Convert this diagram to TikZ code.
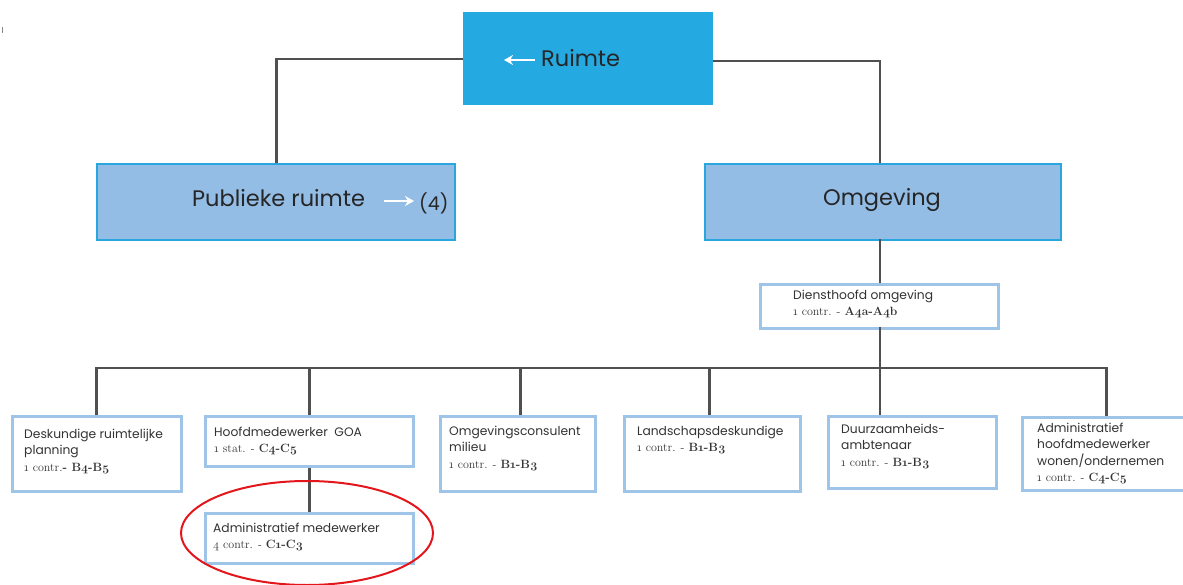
\documentclass[tikz,border=0pt]{standalone}
\usepackage{fontspec}
\setsansfont{Poppins}
\newfontfamily\numserif[Numbers=OldStyle]{Latin Modern Roman}
\usetikzlibrary{arrows.meta}

\definecolor{topblue}{HTML}{25A9E1}
\definecolor{midfill}{HTML}{93BDE5}
\definecolor{midedge}{HTML}{2AA6DF}
\definecolor{boxedge}{HTML}{9EC4E8}
\definecolor{linkgray}{HTML}{505050}
\definecolor{inktext}{HTML}{333333}
\definecolor{markred}{HTML}{E3161C}

\newcommand{\grade}[2]{{\numserif\fontsize{12}{13}\selectfont #1\textbf{#2}}}

\tikzset{
  topbox/.style={fill=topblue, draw=none, anchor=north west, inner sep=0pt},
  midbox/.style={fill=midfill, draw=midedge, line width=2.2pt, anchor=north west, inner sep=0pt},
  staffbox/.style={fill=white, draw=boxedge, line width=2.8pt, anchor=north west, inner sep=0pt},
  bigtext/.style={font=\sffamily\fontsize{22.5}{26}\selectfont, text=black!85, inner sep=0pt},
  stafftext/.style={font=\sffamily\fontsize{12.3}{16.3}\selectfont, text=inktext, align=left, anchor=north west, inner sep=0pt},
  link/.style={draw=linkgray, line width=2.9pt},
  whitearrow/.style={draw=white, line width=2.8pt, -{Stealth[length=9pt,width=10pt]}},
  circled/.style={draw=markred, line width=2pt}
}

\begin{document}
\begin{tikzpicture}[x=1pt,y=-1pt]
\useasboundingbox (0,0) rectangle (1183,585);

% small tick in the corner
\draw[linkgray!70, line width=1pt] (2,27) -- (2,33);

% top level
\node[topbox, minimum width=250pt, minimum height=93pt] (ruimte) at (463,12) {};
\node[bigtext, anchor=west] (ruimtelabel) at (541,58) {Ruimte};
\coordinate (rarrowA) at (535,60);
\coordinate (rarrowB) at (504,60);

% second level
\node[midbox, minimum width=358pt, minimum height=76pt] (publiek) at (96,163) {};
\node[midbox, minimum width=356pt, minimum height=76pt] (omgeving) at (704,163) {};
\node[bigtext, anchor=west] (publieklabel) at (192,198) {Publieke ruimte};
\node[bigtext, anchor=west, font=\sffamily\fontsize{19}{22}\selectfont] (vier) at (419,203) {(4)};
\coordinate (parrowA) at (384,201);
\coordinate (parrowB) at (414,201);
\node[bigtext] (omglabel) at (882,200) {Omgeving};

% head of service
\node[staffbox, minimum width=238pt, minimum height=44pt] (dienst) at (759,283) {};
\node[stafftext] (dienstlabel) at (793,290) {Diensthoofd omgeving\\\grade{1 contr. - }{A4a-A4b}};

% staff boxes
\node[staffbox, minimum width=169pt, minimum height=75pt] (b1) at (11,415) {};
\node[staffbox, minimum width=208pt, minimum height=50pt] (b2) at (204,415) {};
\node[staffbox, minimum width=155pt, minimum height=75pt] (b3) at (439,415) {};
\node[staffbox, minimum width=176pt, minimum height=75pt] (b4) at (623,415) {};
\node[staffbox, minimum width=168pt, minimum height=72pt] (b5) at (827,415) {};
\node[staffbox, minimum width=168pt, minimum height=73pt] (b6) at (1021,416) {};
\node[staffbox, minimum width=208pt, minimum height=50pt] (b7) at (204,512) {};

\node[stafftext] (t1) at (24,429) {Deskundige ruimtelijke\\planning\\\grade{1 contr.}{- B4-B5}};
\node[stafftext] (t2) at (214,427) {Hoofdmedewerker\ \ GOA\\\grade{1 stat. - }{C4-C5}};
\node[stafftext] (t3) at (449,426) {Omgevingsconsulent\\milieu\\\grade{1 contr. - }{B1-B3}};
\node[stafftext] (t4) at (637,426) {Landschapsdeskundige\\\grade{1 contr. - }{B1-B3}};
\node[stafftext] (t5) at (841,424) {Duurzaamheids-\\ambtenaar\\\grade{1 contr. - }{B1-B3}};
\node[stafftext] (t6) at (1037,423) {Administratief\\hoofdmedewerker\\wonen/ondernemen\\\grade{1 contr. - }{C4-C5}};
\node[stafftext] (t7) at (213,523) {Administratief medewerker\\\grade{4 contr. - }{C1-C3}};

% connectors
\coordinate (bus) at (0,368);
\draw[link] (ruimte.west |- 0,59) -| (publiek.north);
\draw[link] (ruimte.east |- 0,61) -| (880,163);
\draw[link] (880,239) -- (880,283);
\draw[link] (880,327) -- (880,415);
\draw[link] (b1.north) -- (b1.north |- bus) -| (b6.north);
\draw[link] (b2.north) -- (b2.north |- bus);
\draw[link] ([xshift=3pt]b3.north) -- ([xshift=3pt]b3.north |- bus);
\draw[link] ([xshift=-3pt]b4.north) -- ([xshift=-3pt]b4.north |- bus);
\draw[link] (b2.south) -- (b7.north);

% white arrows
\draw[whitearrow] (rarrowA) -- (rarrowB);
\draw[whitearrow] (parrowA) -- (parrowB);

% highlight
\draw[circled] (307,533) ellipse [x radius=126pt, y radius=52pt];
\end{tikzpicture}
\end{document}
